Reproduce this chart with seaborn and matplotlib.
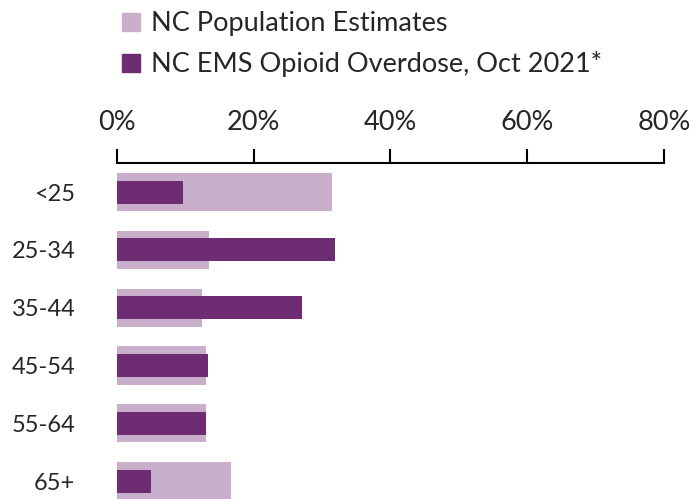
import matplotlib
matplotlib.use('Agg')
import matplotlib.pyplot as plt
import seaborn as sns
from matplotlib.patches import Patch

sns.set_style('white')
plt.rcParams['font.family'] = ['Lato', 'DejaVu Sans']

# data
ages = ['<25', '25-34', '35-44', '45-54', '55-64', '65+']
pop_pct = [31.4, 13.5, 12.4, 13.0, 13.0, 16.7]
ems_pct = [9.6, 31.9, 27.1, 13.3, 13.0, 5.0]
x_ticks = [0, 20, 40, 60, 80]

pop_color = '#C9AFCB'
ems_color = '#6E2C72'

fig = plt.figure(figsize=(6.93, 4.99), dpi=100)
ax = fig.add_axes([0.1688, -0.022, 0.7893, 0.695])

sns.barplot(x=pop_pct, y=ages, orient='h', color=pop_color, width=0.66,
            saturation=1, linewidth=0, ax=ax)
sns.barplot(x=ems_pct, y=ages, orient='h', color=ems_color, width=0.40,
            saturation=1, linewidth=0, ax=ax)

ax.set_xlim(0, 80)
ax.set_ylim(5.5, -0.5)
ax.xaxis.tick_top()
ax.set_xticks(x_ticks)
ax.set_xticklabels([f'{t}%' for t in x_ticks])
ax.tick_params(axis='x', direction='out', length=10, width=1.5,
               color='black', labelsize=19.5, pad=10)
ax.tick_params(axis='y', length=0, labelsize=17, pad=30)
for s in ['bottom', 'left', 'right']:
    ax.spines[s].set_visible(False)
ax.spines['top'].set_linewidth(1.5)
ax.spines['top'].set_color('black')
ax.set_xlabel('')
ax.set_ylabel('')

handles = [Patch(color=pop_color, label='NC Population Estimates'),
           Patch(color=ems_color, label='NC EMS Opioid Overdose, Oct 2021*')]
fig.legend(handles=handles, loc='upper left', bbox_to_anchor=(0.153, 1.01),
           frameon=False, fontsize=19.5, handlelength=0.65, handleheight=0.65,
           handletextpad=0.4, labelspacing=0.55, borderaxespad=0.2)

fig.savefig('out.png', dpi=100)
